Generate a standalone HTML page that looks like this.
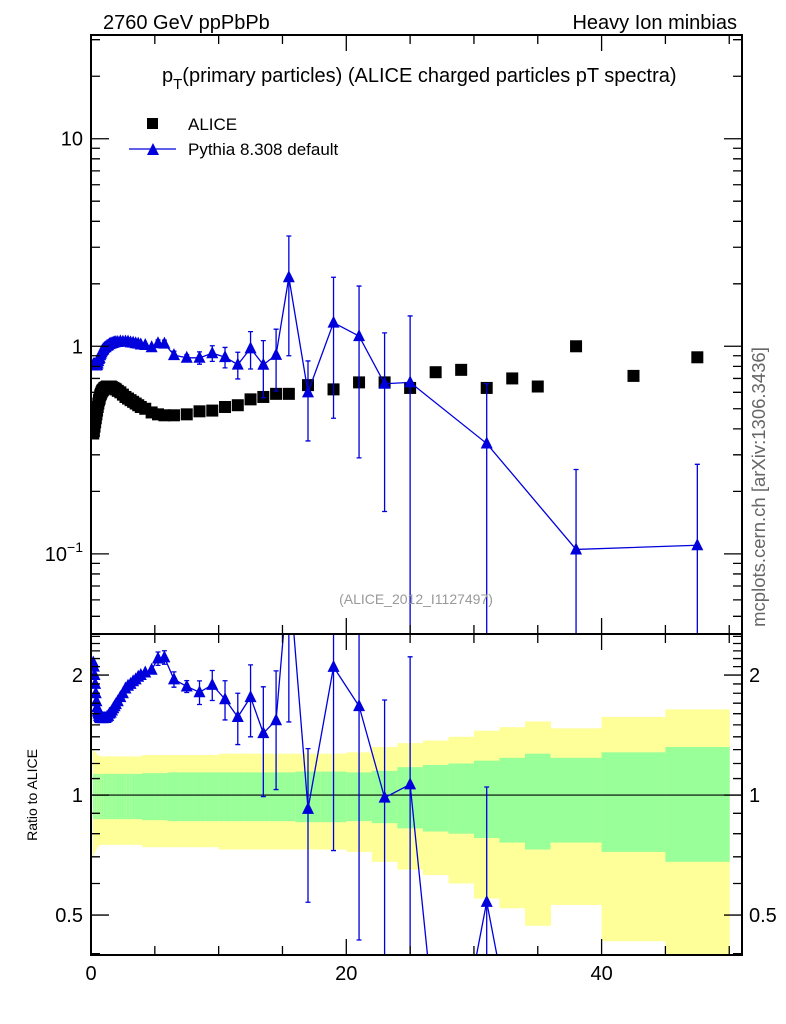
<!DOCTYPE html>
<html><head><meta charset="utf-8"><style>
html,body{margin:0;padding:0;background:#fff;width:786px;height:1024px;overflow:hidden;}
svg{display:block;font-family:"Liberation Sans",sans-serif;}
</style></head><body>
<svg id="chart" width="786" height="1024" viewBox="0 0 786 1024" xmlns="http://www.w3.org/2000/svg">
<defs>
<clipPath id="clipMain"><rect x="91" y="35" width="651" height="599"/></clipPath>
<clipPath id="clipRatio"><rect x="91" y="634" width="651" height="321"/></clipPath>
</defs>
<g id="ratioBands" clip-path="url(#clipRatio)"></g>
<g id="mainMarks" clip-path="url(#clipMain)"></g>
<g id="ratioMarks" clip-path="url(#clipRatio)"></g>
<g id="axes"></g>
<text x="103" y="29" font-size="20">2760 GeV ppPbPb</text>
<text x="737" y="29" font-size="20" text-anchor="end">Heavy Ion minbias</text>
<text x="162" y="82" font-size="20">p<tspan font-size="15" dy="7">T</tspan><tspan dy="-7">(primary particles) (ALICE charged particles pT spectra)</tspan></text>
<rect x="147" y="118" width="11" height="11" fill="#000"/>
<text x="188" y="130" font-size="17">ALICE</text>
<line x1="129" y1="149" x2="176" y2="149" stroke="#0000dd" stroke-width="1.3"/>
<polygon points="147,155 159,155 153,143" fill="#0000dd"/>
<text x="188" y="155" font-size="17">Pythia 8.308 default</text>
<text x="416" y="604" font-size="14" fill="#999" text-anchor="middle">(ALICE_2012_I1127497)</text>
<text transform="translate(765,487) rotate(-90)" font-size="18.5" fill="#666" text-anchor="middle">mcplots.cern.ch [arXiv:1306.3436]</text>
<text transform="translate(37,795) rotate(-90)" font-size="14" text-anchor="middle">Ratio to ALICE</text>
</svg>
<script>
const binEdges=[0.15,0.2,0.25,0.3,0.35,0.4,0.45,0.5,0.55,0.6,0.65,0.7,0.75,0.8,0.85,0.9,0.95,1.0,
1.1,1.2,1.3,1.4,1.5,1.6,1.7,1.8,1.9,2.0,2.2,2.4,2.6,2.8,3.0,3.2,3.4,3.6,3.8,4.0,
4.5,5,5.5,6,7,8,9,10,11,12,13,14,15,16,18,20,22,24,26,28,30,32,34,36,40,45,50];
const aliceValues=[.38,.39,.41,.43,.45,.47,.49,.51,.53,.55,.56,.58,.59,.60,.61,.615,.62,
.63,.635,.64,.64,.64,.64,.635,.63,.625,.62,
.61,.60,.585,.57,.56,.55,.54,.53,.52,.51,
.50,.48,.47,.465,
.465,.47,.486,.49,.51,.52,.555,.57,.59,.59,
.65,.62,.67,.67,.63,.75,.77,.63,.70,.64,
1.0,.72,.885];
const pythiaValues=[.817,.819,.82,.817,.81,.808,.813,.826,.848,.869,.879,.905,.92,.936,.952,.959,.967,
.983,.991,1.005,1.011,1.024,1.03,1.035,1.04,1.044,1.048,
1.049,1.056,1.053,1.055,1.053,1.045,1.042,1.034,1.03,1.02,
1.015,.99,1.034,1.03,
.907,.88,.88,.926,.887,.816,.977,.815,.909,2.15,
.6,1.3,1.12,.66,.67,0,0,.34,0,0,
.105,0,.11];
const pythiaErrors=[0,0,0,0,0,0,0,0,0,0,0,0,0,0,0,0,0,
0,0,0,0,0,0,0,0,0,0,
0,0,0,0,0,0,0,0,0,0,
.01,.01,.04,.04,
.04,.03,.06,.08,.1,.12,.2,.25,.3,1.25,
.25,.85,.83,.5,.73,0,0,.32,0,0,
.15,0,.16];
const statRel=[.13,.13,.13,.13,.13,.13,.13,.13,.13,.13,.13,.13,.13,.13,.13,.13,.13,
.13,.13,.13,.13,.13,.13,.13,.13,.13,.13,
.13,.13,.13,.13,.13,.13,.13,.13,.13,.13,
.135,.135,.135,.135,
.14,.14,.14,.14,.14,.14,.14,.14,.14,.14,
.145,.145,.14,.15,.175,.19,.2,.22,.24,.27,
.24,.28,.32];
const totRel=[.30,.29,.28,.28,.27,.27,.26,.26,.25,.25,.25,.25,.25,.25,.25,.25,.25,
.25,.25,.25,.25,.25,.25,.25,.25,.25,.25,
.25,.25,.25,.25,.25,.25,.25,.25,.25,.25,
.26,.26,.26,.26,
.26,.26,.26,.26,.27,.27,.27,.27,.27,.27,
.27,.27,.28,.32,.35,.37,.40,.45,.48,.53,
.47,.57,.64];
const xTickLabels=["0","20","40"];
const xTickValues=[0,20,40];
const mainYTickValues=[0.1,1,10];
const ratioYTickValues=[0.5,1,2];
const ratioYTickLabels=["0.5","1","2"];

const NS="http://www.w3.org/2000/svg";
const L=91,R=742,MT=35,MB=634,RT=634,RB=955;
const XMIN=0,XMAX=51;
const x=v=>L+(v-XMIN)/(XMAX-XMIN)*(R-L);
const LOGMIN=Math.log10(0.0411),LOGMAX=Math.log10(31.6);
const yMain=v=>MB-(Math.log10(v)-LOGMIN)/(LOGMAX-LOGMIN)*(MB-MT);
const RLMIN=Math.log2(0.397),RLMAX=Math.log2(2.535);
const yRatio=v=>RB-(Math.log2(v)-RLMIN)/(RLMAX-RLMIN)*(RB-RT);
function mk(tag,parent,attrs){const e=document.createElementNS(NS,tag);for(const k in attrs)e.setAttribute(k,attrs[k]);parent.appendChild(e);return e;}
const gBand=document.getElementById('ratioBands'),gMain=document.getElementById('mainMarks'),gRat=document.getElementById('ratioMarks'),gAx=document.getElementById('axes');
const BLUE="#0000dd";
const n=aliceValues.length;
const centers=aliceValues.map((_,i)=>(binEdges[i]+binEdges[i+1])/2);

for(let i=0;i<n;i++){
  const x0=x(binEdges[i]),x1=x(binEdges[i+1]);
  const ylo=1-totRel[i];
  const yTop=yRatio(1+totRel[i]);
  const yBot=Math.min(yRatio(Math.max(ylo,0.05)),RB+2);
  const yb=mk('rect',gBand,{x:x0,y:yTop,width:x1-x0+0.5,height:yBot-yTop,fill:'#ffff99'});
  
  
  const gb=mk('rect',gBand,{x:x0,y:yRatio(1+statRel[i]),width:x1-x0+0.5,height:yRatio(1-statRel[i])-yRatio(1+statRel[i]),fill:'#99ff99'});
  
  
}
const one=mk('line',gBand,{x1:L,x2:R,y1:yRatio(1),y2:yRatio(1),stroke:'#000','stroke-width':1.2});



function tri(g,cx,cy,name){
  const t=mk('polygon',g,{points:`${cx-6},${cy+5} ${cx+6},${cy+5} ${cx},${cy-7}`,fill:BLUE});
  
  
}
function errbar(g,cx,y1,y2,name){
  const e=mk('path',g,{d:`M${cx},${y1}V${y2}M${cx-2.5},${y1}H${cx+2.5}M${cx-2.5},${y2}H${cx+2.5}`,stroke:BLUE,'stroke-width':1.3,fill:'none'});
  
  
}
for(let i=0;i<n;i++){
  const s=mk('rect',gMain,{x:x(centers[i])-6,y:yMain(aliceValues[i])-6,width:12,height:12,fill:'#000'});
  
  
}
let pts=[];
for(let i=0;i<n;i++){if(pythiaValues[i]>0)pts.push([x(centers[i]),yMain(pythiaValues[i])]);}
const pl=mk('polyline',gMain,{points:pts.map(p=>p.join(',')).join(' '),fill:'none',stroke:BLUE,'stroke-width':1.3});


for(let i=0;i<n;i++){
  const v=pythiaValues[i];if(!(v>0))continue;
  const e=pythiaErrors[i];
  if(e>0.02){errbar(gMain,x(centers[i]),yMain(v+e),v-e>0.001?yMain(v-e):MB+2,'pythia-error-bar');}
  tri(gMain,x(centers[i]),yMain(v),'pythia-point');
}
let rp=[];
for(let i=0;i<n;i++){
  const r=Math.max(pythiaValues[i]/aliceValues[i],0.25);
  rp.push([x(centers[i]),yRatio(r)]);
}
const rl=mk('polyline',gRat,{points:rp.map(p=>p.join(',')).join(' '),fill:'none',stroke:BLUE,'stroke-width':1.3});


for(let i=0;i<n;i++){
  const v=pythiaValues[i];if(!(v>0))continue;
  const r=v/aliceValues[i],e=pythiaErrors[i]/aliceValues[i];
  if(pythiaErrors[i]>0.02){errbar(gRat,x(centers[i]),Math.max(yRatio(r+e),RT-2),r-e>0.01?Math.min(yRatio(r-e),RB+2):RB+2,'ratio-error-bar');}
  tri(gRat,x(centers[i]),yRatio(r),'ratio-point');
}
for(const [t,b,nm] of [[MT,MB,'main-frame'],[RT,RB,'ratio-frame']]){
  const f=mk('rect',gAx,{x:L,y:t,width:R-L,height:b-t,fill:'none',stroke:'#000','stroke-width':2});
  
  
}
let tk='';
for(let v=0;v<=50;v+=5){
  const major=v%20===0, len=major?16:9, px=x(v);
  tk+=`M${px},${MT}v${len}M${px},${MB}v${-len}M${px},${RT}v${len}M${px},${RB}v${-len}`;
}
for(let d=-2;d<=1;d++){for(let m=1;m<10;m++){const v=m*Math.pow(10,d);if(v<0.0411||v>31.6)continue;const py=yMain(v),len=m===1?18:9;tk+=`M${L},${py}h${len}M${R},${py}h${-len}`;}}
for(let v=0.4;v<=2.51;v+=0.1){const vv=Math.round(v*10)/10;const py=yRatio(vv);const len=(vv===0.5||vv===1||vv===2)?18:9;tk+=`M${L},${py}h${len}M${R},${py}h${-len}`;}
const tp=mk('path',gAx,{d:tk,stroke:'#000','stroke-width':1.3,fill:'none'});


xTickValues.forEach((v,i)=>{
  const t=mk('text',gAx,{x:x(v),y:980,'font-size':20,'text-anchor':'middle'});t.textContent=xTickLabels[i];
  
  
});
mainYTickValues.forEach(v=>{
  const t=mk('text',gAx,{x:83,y:yMain(v)+7,'font-size':20,'text-anchor':'end'});
  if(v===0.1){t.innerHTML='10<tspan font-size="14" dy="-9">−1</tspan>';}else t.textContent=String(v);
  
  
});
ratioYTickValues.forEach((v,i)=>{
  for(const [xx,anc] of [[83,'end'],[749,'start']]){
    const t=mk('text',gAx,{x:xx,y:yRatio(v)+7,'font-size':20,'text-anchor':anc});t.textContent=ratioYTickLabels[i];
    
    
  }
});
</script>
</body></html>
